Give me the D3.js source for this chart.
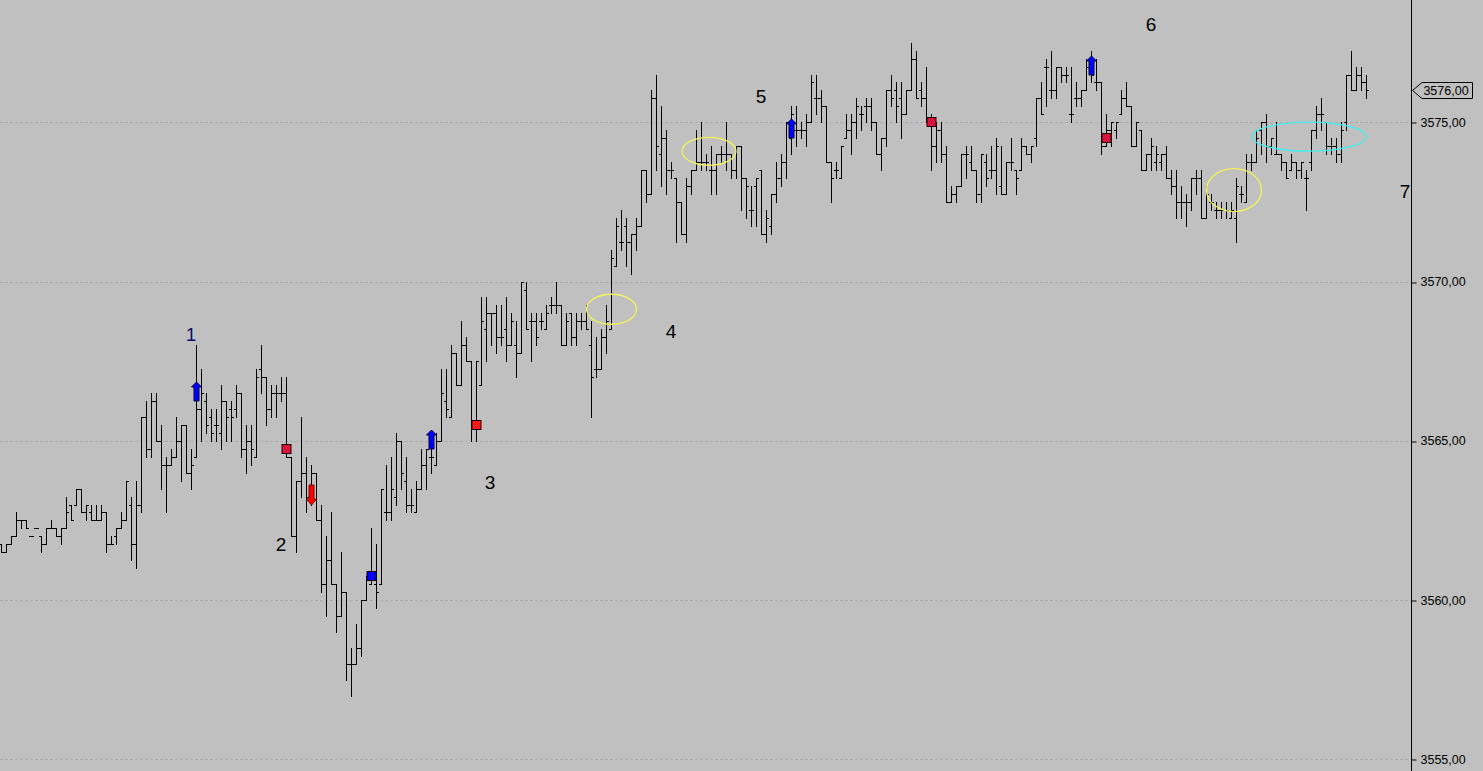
<!DOCTYPE html>
<html><head><meta charset="utf-8">
<script src="https://cdn.jsdelivr.net/npm/d3@7"></script>
<style>
html,body{margin:0;padding:0;background:#c0c0c0;overflow:hidden;}
svg{display:block;}
</style></head>
<body>
<svg id="chart" width="1483" height="771"></svg>
<script>
// ---- data (prices, one entry per bar) ----
const opens = [
3561.75,3561.5,3561.75,3562,3562.5,3562.5,3562,3562.25,3562,3561.75,3562.25,3562.25,3562,3562.25,3563,3563,3563.5,3562.75,3562.75,3562.5,
3562.5,3562.75,3561.75,3562,3562.25,3562.5,3563,3561.75,3563,3565.75,3564.75,3566.25,3565,3564.25,3564.25,3564.5,3565,3565.5,3564,3564.5,
3566,3566.25,3565.75,3565.5,3565.25,3566.25,3566,3566,3566.5,3564.75,3565,3564.5,3567.25,3567,3566,3566.5,3566.5,3566.5,3564.5,3562,
3563.75,3564,3563.25,3564,3562.5,3560.5,3561.25,3560.5,3559.5,3560.25,3558,3558,3558.5,3560,3560.5,3560.5,3560.5,3562.75,3562.75,3563.25,
3565,3563.75,3563,3562.75,3563.5,3564.25,3564.5,3564.25,3565,3566.25,3565.75,3567.75,3566.75,3568,3567.5,3565.5,3566.75,3568.5,3569,3569,
3568.25,3568.5,3568,3568,3567.75,3569.75,3568.75,3568.75,3568.75,3568.5,3569.25,3569.25,3569.25,3568,3569,3568.25,3568.75,3568.75,3568,3567.25,
3567.25,3568.25,3568.5,3570.5,3571.25,3571.75,3571.25,3571.5,3571.75,3573.5,3572.75,3575.75,3574,3574.5,3573.5,3573.25,3572.5,3571.5,3573,3573.5,
3573.75,3573.75,3573.5,3573.5,3574,3574,3574,3573.5,3574.25,3573.25,3572.25,3573,3573.5,3571.5,3571.75,3572.75,3573.25,3573.75,3574.5,3574.75,
3574.75,3574.75,3575,3575.75,3575.75,3575.5,3573.75,3573.5,3573.25,3574.5,3574.75,3575,3575.25,3575.5,3575.5,3575,3574,3574.5,3576,3576,
3575.75,3575.25,3576,3577,3576,3575.75,3575,3574.25,3574.75,3574,3572.5,3572.75,3573,3574,3573.75,3573.5,3572.75,3573.75,3573.5,3573.5,
3573,3572.75,3573.75,3573.5,3573.5,3574.25,3574,3574.5,3575.75,3576.75,3576,3576,3576.75,3576.5,3575.25,3575.75,3575.75,3576,3576.75,3576.25,
3576.25,3574.25,3574.75,3574.75,3575.25,3575.75,3575.5,3574.25,3574.75,3573.5,3574,3573.75,3573.75,3574,3573.25,3573,3572.5,3572.5,3572.5,3573.25,
3573.25,3572,3572.5,3572.25,3572.25,3572.25,3572,3572,3572.75,3572.5,3573.75,3573.75,3574.75,3575,3574.25,3574,3574,3573.75,3573.5,3573.75,
3573.5,3573.25,3573.75,3574.75,3575.25,3575,3574.25,3574.25,3574,3575,3576.5,3576,3576.5,3576.25
];
const highs = [
3561.75,3561.75,3562,3562.75,3562.5,3562.5,3562,3562.25,3562,3562.25,3562.5,3562.25,3562.25,3563.25,3563,3563.5,3563.5,3563,3563,3563,
3563,3562.75,3562,3562.25,3562.75,3563.75,3563.25,3563.75,3565.75,3566.25,3566.5,3566.5,3565.5,3564.5,3564.75,3565.75,3565.5,3565.5,3564.75,3568,
3567.25,3566.5,3566,3566,3566.75,3566.25,3566.25,3566.75,3566.5,3565.5,3565.5,3567.25,3568,3567,3566.75,3566.75,3567,3567,3564.5,3563.75,
3565.75,3564.5,3564.25,3564,3563,3562,3562.75,3560.5,3561.5,3560.25,3558.5,3559.25,3560,3560.75,3562.25,3561.75,3563.5,3564.25,3564.5,3565.25,
3565,3564.5,3563.5,3563.75,3564.75,3564.75,3565.25,3565.25,3567.25,3567.25,3568,3567.75,3568.75,3568.25,3567.5,3567.5,3569.5,3569.5,3569,3569.25,
3569.25,3569.5,3569,3568.75,3570,3570,3569,3569,3569,3569.25,3569.5,3570,3569.25,3569,3569,3569,3569,3569.25,3568.75,3568.25,
3568.5,3569.25,3571,3572,3572.25,3572,3571.5,3572,3573.5,3573.5,3576,3576.5,3575.5,3574.75,3573.75,3573.25,3572.5,3573.25,3573.5,3574.75,
3575,3574,3574.25,3574,3574.25,3575,3574,3574.25,3574.25,3573.25,3573,3573.25,3573.5,3572.25,3572.75,3573.75,3574,3575,3575.5,3575.5,
3575,3575.25,3576.5,3576.5,3576,3575.5,3573.75,3573.75,3574.25,3575.25,3575.25,3575.75,3575.5,3575.75,3575.75,3575,3574.5,3576,3576.5,3576.25,
3576.25,3576,3577.5,3577.25,3576.25,3576.75,3575.25,3575,3575,3574.25,3573,3573,3574,3574.25,3574.25,3573.5,3574,3574,3574.25,3574.5,
3574.25,3573.75,3574.5,3573.5,3574.5,3574.25,3574.25,3575.75,3576.25,3577,3577.25,3576.75,3576.75,3576.75,3576.75,3576.25,3576,3577,3577.25,3577,
3576.25,3575.25,3575,3575,3576,3576.25,3575.5,3575,3574.75,3574,3574.5,3574.25,3574,3574.25,3573.5,3573.5,3573,3572.75,3573.25,3573.5,
3573.5,3573,3572.75,3572.5,3572.5,3572.5,3572.5,3573.25,3573,3574,3574,3574.75,3575,3575.25,3574.5,3575,3574,3573.75,3574,3573.75,
3573.75,3573.5,3574.75,3575.5,3575.75,3575,3574.5,3574.5,3575,3576.5,3577.25,3576.75,3576.75,3576.5
];
const lows = [
3561.5,3561.5,3561.75,3562,3562.25,3562.25,3562,3562.25,3561.5,3561.75,3562.25,3562,3561.75,3562.25,3562.5,3563,3562.75,3562.5,3562.5,3562.5,
3562.5,3561.5,3561.75,3561.75,3562.25,3562.5,3561.25,3561,3562.75,3564.5,3564.5,3565,3563.5,3562.75,3564.25,3564.5,3563.75,3564,3563.5,3564.5,
3565,3565.25,3565,3565,3564.75,3565,3565,3565.75,3564.5,3564,3564.25,3564.5,3566.5,3565.5,3565.75,3565.75,3566.25,3564.5,3562,3561.5,
3563.25,3562.75,3563,3562.5,3560.25,3559.5,3560.5,3559,3559.5,3557.5,3557,3558,3558.25,3560,3560.5,3559.75,3560.5,3562.5,3562.5,3563,
3563.5,3562.75,3562.75,3562.75,3563.5,3563.5,3564,3564.25,3565,3565.75,3565.75,3566.75,3566.75,3567.5,3565,3565,3566.75,3567.5,3568,3567.75,
3568,3567.5,3568,3567,3567.75,3568.5,3567.5,3568,3568.5,3568.5,3569,3569,3568,3568,3568,3568,3568.5,3568.5,3565.75,3567,
3567.25,3567.75,3568.5,3570.5,3571,3570.5,3570.25,3571,3571.75,3572.5,3572.75,3573.5,3573,3572.75,3573.25,3571.25,3571.5,3571.25,3572.75,3573.5,
3573.5,3573.5,3572.75,3572.75,3573.75,3573.5,3573.25,3573.25,3572.25,3572,3571.75,3571.75,3571.5,3571.25,3571.5,3572.5,3573,3573.25,3574,3574.25,
3574.5,3574.25,3575,3575.25,3575,3573.75,3572.5,3573.25,3573.25,3574.5,3574,3574.5,3574.75,3575,3574.75,3574,3573.5,3574.25,3575.5,3575,
3574.5,3575.25,3576,3575.75,3575.5,3575,3573.5,3573.75,3573.75,3572.5,3572.5,3572.5,3573,3573.25,3573.5,3572.5,3572.5,3573,3573.25,3572.75,
3572.75,3572.75,3573.5,3572.75,3573.5,3574,3573.75,3574.25,3575.25,3575.5,3575.75,3575.75,3576.25,3576.25,3575,3575.5,3575.5,3576,3576.25,3576,
3574,3574.25,3574.25,3574.5,3575.25,3575.5,3574.25,3574.25,3573.5,3573.5,3573.5,3573.5,3573.5,3573.25,3572.75,3572,3572,3571.75,3572.25,3572.75,
3572,3572,3572.25,3572,3572,3572,3572,3571.25,3572.5,3572.5,3573.5,3573.75,3574,3573.75,3574,3574,3573.5,3573.25,3573.5,3573.25,
3573.25,3572.25,3573.5,3574.5,3574.75,3574,3574,3573.75,3573.75,3574.75,3576,3576,3576,3575.75
];
const closes = [
3561.5,3561.75,3562,3562.5,3562.5,3562.25,3562,3562.25,3561.75,3562.25,3562.25,3562,3562.25,3562.75,3562.5,3563.5,3562.75,3563,3562.5,3562.5,
3562.75,3561.75,3561.75,3562.25,3562.5,3563.75,3561.75,3563,3565.75,3564.75,3566.25,3565,3564.25,3564.25,3564.5,3565,3565.5,3564,3564.25,3566,
3566.5,3565.5,3565.25,3565.5,3566.25,3565.75,3565.75,3566.5,3564.75,3565,3564.75,3567,3567,3566,3566.5,3566.5,3566.5,3564.5,3562,3563.75,
3564,3563.25,3564,3562.5,3560.5,3561.25,3560.5,3559.5,3560.25,3558,3558,3558.5,3560,3560.75,3560.75,3560.25,3563.5,3562.75,3563.5,3565,
3564,3563,3563,3563.5,3564.25,3564.75,3564.5,3565,3566.5,3566,3567.75,3566.75,3568,3567.5,3565.5,3567.5,3568.75,3569,3569,3568.25,
3568.25,3568,3568.75,3567.75,3570,3568.5,3568.75,3568.25,3568.75,3569,3569.25,3569.25,3568,3568.75,3568.25,3568.75,3568.75,3568.5,3567,3567.25,
3568.25,3568.75,3570.75,3571.75,3571.25,3571.25,3571.5,3571.75,3573.5,3572.75,3575.75,3574.25,3574.5,3573.5,3573.5,3572.5,3571.5,3573,3573.5,3573.75,
3573.75,3573.75,3573.5,3574,3574,3574,3573.5,3574.25,3573.25,3573,3572.25,3573.25,3571.5,3572,3572.75,3573.25,3573.75,3575,3575.25,3574.75,
3574.75,3575,3576.25,3575.75,3575.5,3573.75,3573.25,3573.5,3574.25,3574.75,3575,3575.5,3575.25,3575.5,3575,3574,3574.5,3576,3575.75,3575.5,
3575.25,3576,3577,3575.75,3575.75,3575,3574.25,3574.75,3574,3572.5,3572.75,3573,3574,3574,3573.5,3572.75,3574,3573.25,3573.5,3574.25,
3572.75,3573.75,3573.75,3573.25,3574.25,3574,3574.25,3575.75,3575.25,3576.75,3576,3576.75,3576.5,3576.5,3575.25,3575.75,3576,3576.75,3576.5,3576.25,
3574.25,3574.75,3575,3575,3575.75,3575.5,3574.25,3575,3573.5,3574,3574.25,3574,3574,3573.25,3573,3572.5,3572.5,3572.5,3573.25,3573.25,
3572,3572.75,3572.5,3572.25,3572.25,3572.25,3572.25,3573,3572.75,3573.75,3573.75,3574.5,3575,3574.25,3574.5,3574,3573.75,3573.25,3573.75,3573.5,
3573.75,3573.25,3574.75,3575.25,3575.25,3574.25,3574.25,3574,3574.75,3576.5,3576,3576.5,3576.25,3576
];
const priceTicks = [3555, 3560, 3565, 3570, 3575];
const lastPrice = 3576;

// signal markers: bar index and price
const upArrows   = [{i: 39, p: 3566.25}, {i: 86, p: 3564.75}, {i: 158, p: 3574.5}, {i: 218, p: 3576.5}];
const downArrows = [{i: 62, p: 3563}];
const squares = [
  {i: 57,  p: 3564.75, kind: "crimson"},
  {i: 74,  p: 3560.75, kind: "blue"},
  {i: 95,  p: 3565.5,  kind: "red"},
  {i: 186, p: 3575,    kind: "crimson"},
  {i: 221, p: 3574.5,  kind: "crimson"}
];
const waveLabels = [
  {t: "1", i: 37.9,  p: 3568.35, navy: true},
  {t: "2", i: 55.9,  p: 3561.75},
  {t: "3", i: 97.7,  p: 3563.7},
  {t: "4", i: 133.9, p: 3568.44},
  {t: "5", i: 151.9, p: 3575.82},
  {t: "6", i: 229.9, p: 3578.08},
  {t: "7", i: 280.7, p: 3572.83}
];
const ellipses = [
  {i: 122,   p: 3569.13, rx: 25,  ry: 15,  color: "#f2f25a"},
  {i: 141.5, p: 3574.09, rx: 27,  ry: 14,  color: "#f2f25a"},
  {i: 246.5, p: 3572.87, rx: 27.5,ry: 21.5,color: "#f2f25a"},
  {i: 261.5, p: 3574.55, rx: 57,  ry: 14.5,color: "#3ff0f0"}
];

// ---- drawing ----
const W = 1483, H = 771, axisX = 1411.5;
const svg = d3.select("#chart");
const bars = opens.map((o, k) => ({i: k, o, h: highs[k], l: lows[k], c: closes[k]}));

const x = d3.scaleLinear().domain([0, 273]).range([1.5, 1366.5]);
const y = d3.scaleLinear().domain([3555, 3575]).range([759.3, 122.3]);
const py = p => Math.round(y(p)) + 0.5;

svg.append("rect").attr("width", W).attr("height", H).attr("fill", "#c0c0c0");

// grid
svg.append("g").selectAll("line").data(priceTicks).join("line")
  .attr("x1", 0).attr("x2", axisX).attr("y1", d => py(d)).attr("y2", d => py(d))
  .attr("stroke", "#ababab").attr("stroke-width", 1).attr("stroke-dasharray", "3,2");

// OHLC bars
const g = svg.append("g").attr("stroke", "#000").attr("stroke-width", 1).attr("fill", "none");
g.selectAll("path").data(bars).join("path")
  .attr("d", d => {
    const cx = x(d.i);
    const top = py(Math.max(d.h, d.o, d.c)), bot = py(Math.min(d.l, d.o, d.c));
    let s = `M${cx},${top - 0.5}V${bot + 0.5}`;
    s += `M${cx - 2.5},${py(d.o)}H${cx}`;
    s += `M${cx},${py(d.c)}H${cx + 2.5}`;
    return s;
  });

// ellipses
svg.append("g").selectAll("ellipse").data(ellipses).join("ellipse")
  .attr("cx", d => x(d.i)).attr("cy", d => y(d.p)).attr("rx", d => d.rx).attr("ry", d => d.ry)
  .attr("fill", "none").attr("stroke", d => d.color).attr("stroke-width", 1.3);

// squares
const sqFill = {crimson: "#dc143c", blue: "#0000ff", red: "#ff1a1a"};
svg.append("g").selectAll("rect").data(squares).join("rect")
  .attr("x", d => x(d.i) - 4.5).attr("y", d => Math.round(y(d.p)) - 4.5)
  .attr("width", 9).attr("height", 9)
  .attr("fill", d => sqFill[d.kind]).attr("stroke", "#1a0000").attr("stroke-width", 1);

// up arrows (base at price, pointing upward)
const upPath = (cx, by) => `M${cx-2.5},${by}V${by-14}H${cx-5}L${cx},${by-19}L${cx+5},${by-14}H${cx+2.5}V${by}Z`;
svg.append("g").selectAll("path").data(upArrows).join("path")
  .attr("d", d => upPath(x(d.i), Math.round(y(d.p))))
  .attr("fill", "#0000ff").attr("stroke", "#000040").attr("stroke-width", 1);

const downPath = (cx, ty) => `M${cx-2.5},${ty-20}V${ty-6}H${cx-5}L${cx},${ty}L${cx+5},${ty-6}H${cx+2.5}V${ty-20}Z`;
svg.append("g").selectAll("path").data(downArrows).join("path")
  .attr("d", d => downPath(x(d.i), Math.round(y(d.p))))
  .attr("fill", "#ff0000").attr("stroke", "#800000").attr("stroke-width", 1);

// wave labels
svg.append("g").selectAll("text").data(waveLabels).join("text")
  .attr("x", d => x(d.i)).attr("y", d => y(d.p))
  .attr("text-anchor", "middle").attr("dominant-baseline", "central")
  .attr("font-family", "Liberation Sans, Arial, sans-serif").attr("font-size", 19)
  .attr("fill", d => d.navy ? "#10106a" : "#000")
  .text(d => d.t);

// right price axis
const axis = d3.axisRight(y).tickValues(priceTicks).tickSize(5).tickPadding(4)
  .tickFormat(d => d3.format(".2f")(d).replace(".", ","));
const ag = svg.append("g").attr("transform", `translate(${axisX},0)`).call(axis);
ag.select(".domain").remove();
ag.selectAll(".tick line").attr("stroke", "#000").attr("transform", d => `translate(0,${py(d) - y(d)})`);
ag.selectAll(".tick text").attr("font-family", "Liberation Sans, Arial, sans-serif").attr("font-size", 12.5).attr("fill", "#000");
svg.append("line").attr("x1", axisX).attr("x2", axisX).attr("y1", 0).attr("y2", H).attr("stroke", "#000");

// last price tag
const ly = py(lastPrice);
svg.append("path")
  .attr("d", `M${axisX + 1},${ly}L${axisX + 10.5},${ly - 8}H1472.5V${ly + 8}H${axisX + 10.5}Z`)
  .attr("fill", "#c0c0c0").attr("stroke", "#000").attr("stroke-width", 1);
svg.append("text").attr("x", 1446).attr("y", ly).attr("text-anchor", "middle").attr("dominant-baseline", "central")
  .attr("font-family", "Liberation Sans, Arial, sans-serif").attr("font-size", 12.5).attr("fill", "#000")
  .text(d3.format(".2f")(lastPrice).replace(".", ","));
</script>
</body></html>
